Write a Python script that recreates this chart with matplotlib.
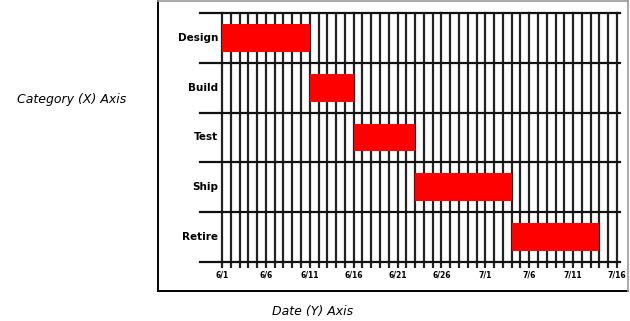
import matplotlib
matplotlib.use("Agg")
import matplotlib.pyplot as plt
from matplotlib.lines import Line2D
from matplotlib.ticker import MultipleLocator, FixedLocator

# ---- data ----
tasks = ["Design", "Build", "Test", "Ship", "Retire"]
starts = [0, 10, 15, 22, 33]          # day offset of task start
durations = [10, 5, 7, 11, 10]        # length in days
total_days = 45
date_ticks = [0, 5, 10, 15, 20, 25, 30, 35, 40, 45]
date_labels = ["6/1", "6/6", "6/11", "6/16", "6/21", "6/26", "7/1", "7/6", "7/11", "7/16"]

W, H = 630, 321
fig = plt.figure(figsize=(W / 100, H / 100), dpi=100)
fig.patch.set_facecolor("white")

# axes placed in pixel terms
ax_l, ax_r, ax_t, ax_b = 200, 620, 13, 262
ax = fig.add_axes([ax_l / W, 1 - ax_b / H, (ax_r - ax_l) / W, (ax_b - ax_t) / H])

px_per_day = (617 - 222) / 45.0
x0 = -(222 - ax_l) / px_per_day
x1 = (ax_r - 222) / px_per_day
ax.set_xlim(x0, x1)
ax.set_ylim(0, len(tasks))

n = len(tasks)
ycent = [n - i - 0.5 for i in range(n)]
ax.barh(ycent, durations, left=starts, height=0.56, color="#ff0000", zorder=3)

# gridlines
ax.xaxis.set_major_locator(FixedLocator(date_ticks))
ax.xaxis.set_minor_locator(FixedLocator(list(range(total_days + 1))))
ax.set_xticklabels(date_labels, fontsize=5.5, fontweight="bold")
ax.yaxis.set_major_locator(MultipleLocator(1))
ax.set_yticklabels([])
ax.grid(True, which="both", axis="x", color="#222222", linewidth=1.6, zorder=1)
ax.grid(True, which="major", axis="y", color="#111111", linewidth=1.6, zorder=1)
for g in ax.get_xgridlines() + ax.get_ygridlines():
    g.set_clip_on(False)
ax.tick_params(axis="x", which="both", direction="out", length=4, width=1.6,
               color="#222222", pad=2)
ax.tick_params(axis="y", length=0)
for s in ax.spines.values():
    s.set_visible(False)

for y, t in zip(ycent, tasks):
    ax.text(-0.45, y, t, ha="right", va="center", fontsize=7.5, fontweight="bold")

# outer frame
fl, fr, ft, fb = 158, 628, 1, 291
def fx(p): return p / W
def fy(p): return 1 - p / H
fig.add_artist(Line2D([fx(fl), fx(fl)], [fy(ft), fy(fb)], color="black", lw=1.4))
fig.add_artist(Line2D([fx(fl), fx(fr)], [fy(fb), fy(fb)], color="black", lw=1.4))
fig.add_artist(Line2D([fx(fl), fx(fr)], [fy(ft), fy(ft)], color="#999999", lw=1.2))
fig.add_artist(Line2D([fx(fr), fx(fr)], [fy(ft), fy(fb)], color="#999999", lw=1.2))

fig.text(fx(72), fy(100), "Category (X) Axis", ha="center", va="center",
         fontsize=9, style="italic")
fig.text(fx(313), fy(311), "Date (Y) Axis", ha="center", va="center",
         fontsize=9, style="italic")

fig.savefig("out.png", dpi=100, facecolor="white")
